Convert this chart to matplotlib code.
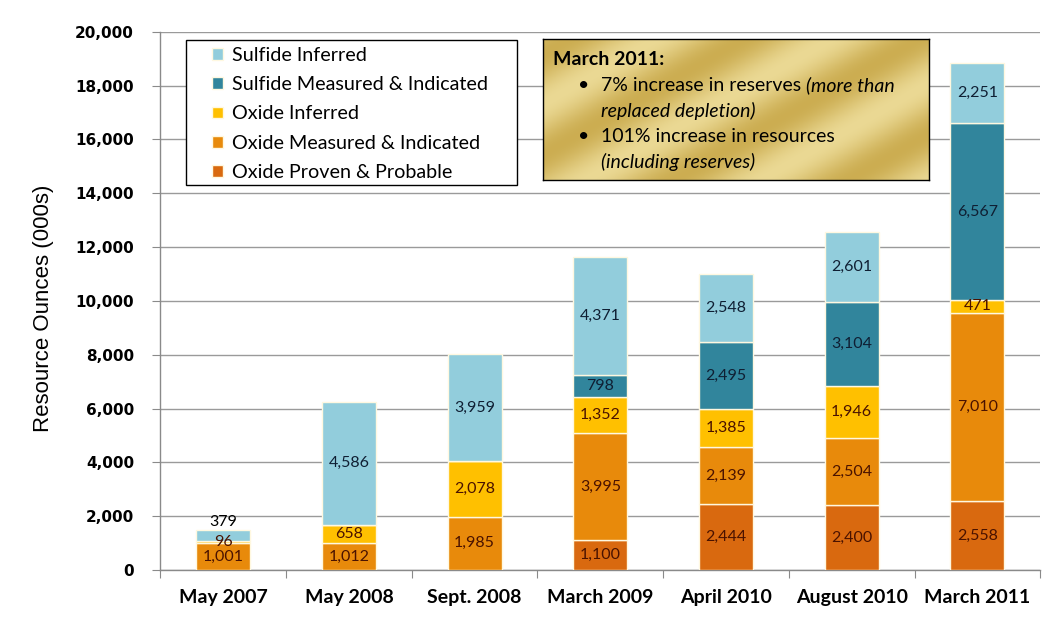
import numpy as np
import matplotlib
matplotlib.use("Agg")
import matplotlib.pyplot as plt
from matplotlib.patches import Rectangle

categories = ["May 2007", "May 2008", "Sept. 2008", "March 2009", "April 2010", "August 2010", "March 2011"]

oxide_pp = [0, 0, 0, 1100, 2444, 2400, 2558]
oxide_mi = [1001, 1012, 1985, 3995, 2139, 2504, 7010]
oxide_inf = [96, 658, 2078, 1352, 1385, 1946, 471]
sulfide_mi = [0, 0, 0, 798, 2495, 3104, 6567]
sulfide_inf = [379, 4586, 3959, 4371, 2548, 2601, 2251]

series = [
    ("Oxide Proven & Probable", oxide_pp, "#D9690F", "#4A1200"),
    ("Oxide Measured & Indicated", oxide_mi, "#E88A0B", "#4A1200"),
    ("Oxide Inferred", oxide_inf, "#FFC000", "#4A1200"),
    ("Sulfide Measured & Indicated", sulfide_mi, "#31859C", "#0F1F33"),
    ("Sulfide Inferred", sulfide_inf, "#92CDDC", "#0F1F33"),
]

label_font = "Lato"
W, H = 1055, 623

fig = plt.figure(figsize=(10.55, 6.23), dpi=100)
ax = fig.add_axes([0.152, 0.085, 0.834, 0.864])

x = np.arange(len(categories))
bottom = np.zeros(len(categories))
handles = []
for name, vals, color, tcolor in series:
    vals = np.array(vals, dtype=float)
    bars = ax.bar(x, vals, 0.43, bottom=bottom, color=color, edgecolor="#FFF8E0",
                  linewidth=1.0, label=name, zorder=3)
    handles.append(bars)
    for i, v in enumerate(vals):
        if v <= 0:
            continue
        y = bottom[i] + v / 2
        c = tcolor
        dy = 0
        # tiny segments on the first bar: 379 sits above the bar like the original
        if i == 0 and name == "Sulfide Inferred":
            dy = 9.5
            c = "black"
        ax.annotate(f"{int(v):,}", (x[i], y), xytext=(0, dy), textcoords="offset points",
                    ha="center", va="center", fontsize=11.5, color=c,
                    family=label_font, zorder=5)
    bottom += vals

ax.set_xlim(-0.5, len(categories) - 0.5)
ax.set_ylim(0, 20000)
ax.set_yticks(np.arange(0, 20001, 2000))
ax.set_yticklabels([f"{v:,}" for v in range(0, 20001, 2000)], fontsize=11,
                   fontweight="bold", family="DejaVu Sans")
ax.yaxis.grid(True, color="#9A9A9A", linewidth=1.0, zorder=0)
ax.set_axisbelow(True)

ax.set_xticks(np.arange(-0.5, len(categories)), minor=False)
ax.set_xticklabels([])
ax.set_xticks(x, minor=True)
ax.set_xticklabels(categories, minor=True, fontsize=14, fontweight="bold", family=label_font)
ax.tick_params(axis="x", which="minor", length=0, pad=14)
ax.tick_params(axis="x", which="major", length=6, color="#8A8A8A", direction="out")
ax.tick_params(axis="y", length=6, color="#8A8A8A", direction="out", pad=13)

for s in ["top", "right"]:
    ax.spines[s].set_visible(False)
for s in ["left", "bottom"]:
    ax.spines[s].set_color("#8A8A8A")
    ax.spines[s].set_linewidth(1.0)

fig.text(0.041, 0.505, "Resource Ounces (000s)", rotation=90, ha="center", va="center",
         fontsize=16, family="Liberation Sans")

# legend box drawn separately so the entries can sit inset like the original
fig.patches.append(Rectangle((186 / W, 1 - 185 / H), (517 - 186) / W, (185 - 40) / H,
                             transform=fig.transFigure, facecolor="white",
                             edgecolor="black", linewidth=1.0, zorder=5))
leg = fig.legend(handles=handles[::-1], loc="upper left", bbox_to_anchor=(212 / W, 1 - 47 / H),
                 frameon=False, prop={"family": label_font, "size": 14.2},
                 handlelength=0.55, handleheight=0.55, handletextpad=0.45, labelspacing=0.62,
                 borderpad=0.0, borderaxespad=0)
leg.set_zorder(6)

# gold note box
bx0, by0, bw, bh = 543 / W, 1 - 180 / H, (929 - 543) / W, (180 - 39) / H
gax = fig.add_axes([bx0, by0, bw, bh], zorder=7)
gx, gy = np.meshgrid(np.linspace(0, 1, 300), np.linspace(0, 1, 120))
t = 0.5 + 0.5 * np.sin((gx * 2.2 - gy * 1.4) * np.pi * 2.0)
c1 = np.array([0.80, 0.68, 0.32])
c2 = np.array([0.92, 0.85, 0.58])
img = c1[None, None, :] * (1 - t[..., None]) + c2[None, None, :] * t[..., None]
gax.imshow(img, aspect="auto", extent=[0, 1, 0, 1], origin="lower")
gax.set_xlim(0, 1)
gax.set_ylim(0, 1)
gax.set_xticks([])
gax.set_yticks([])
for s in gax.spines.values():
    s.set_color("black")
    s.set_linewidth(1.0)

fs = 14
gax.text(0.025, 0.855, "March 2011:", fontsize=fs, fontweight="bold", family=label_font,
         va="center", ha="left")
gax.text(0.09, 0.67, "\u2022", fontsize=fs, family=label_font, va="center")
t1 = gax.text(0.15, 0.67, "7% increase in reserves ", fontsize=fs, family=label_font, va="center")
gax.annotate("(more than", xy=(1, 0.5), xycoords=t1, va="center", ha="left",
             fontsize=fs, family=label_font, style="italic")
gax.text(0.15, 0.49, "replaced depletion)", fontsize=fs, family=label_font, va="center",
         style="italic")
gax.text(0.09, 0.31, "\u2022", fontsize=fs, family=label_font, va="center")
gax.text(0.15, 0.31, "101% increase in resources", fontsize=fs, family=label_font, va="center")
gax.text(0.15, 0.13, "(including reserves)", fontsize=fs, family=label_font, va="center",
         style="italic")

fig.savefig("out.png", dpi=100)
